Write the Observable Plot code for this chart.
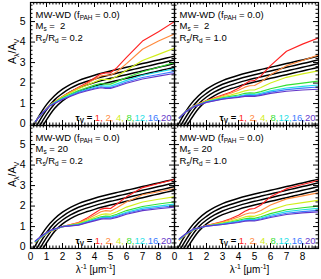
<!DOCTYPE html>
<html><head><meta charset="utf-8">
<script src="https://cdn.jsdelivr.net/npm/d3@7"></script>
<script src="https://cdn.jsdelivr.net/npm/@observablehq/plot@0.6"></script>
<style>
body{margin:0;background:#fff;}
svg{display:block}
text{white-space:pre}
</style>
</head><body><div id="chart"></div>
<script>
// ---------- data ----------
const rsRdValues = ["0.2", "1.0"];
const msValues = [2, 20];
const tauValues = [1, 2, 4, 8, 12, 16, 20];
const tauColors = ["#ff2222", "#ff8a3d", "#d2ee1c", "#35e035", "#1fe0e6", "#3b7bff", "#6336c8"];

const xGrid = [0.3, 0.7, 1.2, 2, 3, 3.5, 4, 4.4, 4.7, 5.0, 5.4, 6, 7, 8, 9];

// Ms = 2, Rs/Rd = 0.2 (rows: tau 1,2,4,8,12,16,20)
const ms2_rs02 = [
  [0.12,0.5,0.92,1.35,1.8,2.0,2.25,2.45,2.5,2.5,2.75,3.25,4.05,4.5,5.0],
  [0.12,0.5,0.92,1.34,1.77,1.95,2.18,2.35,2.38,2.38,2.55,2.95,3.65,4.05,4.4],
  [0.12,0.5,0.91,1.32,1.72,1.88,2.05,2.18,2.18,2.17,2.33,2.62,3.1,3.4,3.7],
  [0.12,0.5,0.9,1.28,1.64,1.77,1.9,1.98,1.95,1.95,2.07,2.27,2.55,2.77,3.0],
  [0.12,0.5,0.9,1.25,1.58,1.7,1.81,1.88,1.85,1.85,1.96,2.13,2.38,2.54,2.7],
  [0.12,0.5,0.89,1.22,1.54,1.65,1.75,1.82,1.78,1.78,1.88,2.05,2.27,2.42,2.56],
  [0.12,0.5,0.88,1.2,1.5,1.61,1.71,1.77,1.74,1.74,1.83,1.99,2.2,2.34,2.47]
];
// Ms = 2, Rs/Rd = 1.0
const ms2_rs10 = [
  [0.3,0.6,0.88,1.15,1.42,1.55,1.75,1.95,2.1,2.12,2.35,2.85,3.55,3.9,4.2],
  [0.3,0.6,0.88,1.14,1.38,1.5,1.65,1.8,1.87,1.88,2.05,2.4,2.85,3.1,3.37],
  [0.3,0.6,0.87,1.12,1.33,1.42,1.52,1.62,1.66,1.66,1.78,2.0,2.28,2.45,2.6],
  [0.3,0.6,0.86,1.1,1.28,1.35,1.42,1.5,1.52,1.51,1.58,1.72,1.9,2.0,2.1],
  [0.3,0.6,0.85,1.08,1.25,1.31,1.37,1.43,1.45,1.44,1.5,1.62,1.76,1.84,1.91],
  [0.3,0.6,0.85,1.07,1.23,1.28,1.33,1.39,1.4,1.39,1.45,1.56,1.68,1.75,1.81],
  [0.3,0.6,0.84,1.06,1.21,1.26,1.3,1.35,1.36,1.35,1.4,1.5,1.6,1.66,1.7]
];
// Ms = 20, Rs/Rd = 0.2
const ms20_rs02 = [
  [0.25,0.5,0.75,1.0,1.2,1.4,1.65,1.85,1.9,1.88,2.1,2.45,2.9,3.1,3.3],
  [0.25,0.5,0.75,1.0,1.18,1.35,1.55,1.72,1.78,1.75,1.92,2.2,2.55,2.7,2.85],
  [0.25,0.5,0.76,1.0,1.15,1.3,1.45,1.58,1.62,1.6,1.72,1.95,2.2,2.33,2.45],
  [0.26,0.51,0.77,1.0,1.12,1.25,1.38,1.48,1.51,1.5,1.6,1.78,1.98,2.1,2.2],
  [0.27,0.52,0.78,1.0,1.1,1.22,1.34,1.43,1.46,1.45,1.54,1.7,1.9,2.0,2.1],
  [0.28,0.53,0.79,1.0,1.08,1.2,1.31,1.4,1.42,1.41,1.5,1.65,1.83,1.93,2.02],
  [0.3,0.55,0.8,1.0,1.07,1.18,1.28,1.36,1.38,1.37,1.45,1.6,1.78,1.87,1.95]
];
// Ms = 20, Rs/Rd = 1.0
const ms20_rs10 = [
  [0.35,0.6,0.85,1.05,1.25,1.38,1.55,1.75,1.85,1.88,2.05,2.45,2.85,3.05,3.25],
  [0.35,0.6,0.85,1.05,1.22,1.33,1.47,1.6,1.66,1.66,1.78,2.05,2.35,2.5,2.65],
  [0.36,0.61,0.86,1.04,1.18,1.27,1.37,1.47,1.51,1.5,1.6,1.8,2.05,2.17,2.28],
  [0.37,0.62,0.86,1.03,1.15,1.22,1.3,1.38,1.41,1.4,1.48,1.63,1.82,1.92,2.0],
  [0.38,0.63,0.87,1.03,1.13,1.19,1.26,1.33,1.35,1.34,1.42,1.55,1.73,1.82,1.89],
  [0.39,0.64,0.87,1.02,1.11,1.17,1.23,1.29,1.31,1.3,1.37,1.49,1.65,1.73,1.79],
  [0.4,0.65,0.88,1.02,1.1,1.15,1.2,1.26,1.28,1.27,1.33,1.44,1.59,1.67,1.72]
];

// reference (black) curves, same in every panel
const blackX = [0.1,0.3,0.5,0.75,1,1.5,2,2.5,3,3.5,4,4.5,5,5.5,6,6.5,7,7.5,8,8.5,9];
const black1 = [-0.2,0.07,0.35,0.67,0.95,1.38,1.70,1.94,2.12,2.26,2.38,2.49,2.59,2.68,2.77,2.86,2.95,3.04,3.13,3.22,3.31];
const black2 = [-0.45,-0.2,0.07,0.4,0.7,1.18,1.5,1.75,1.94,2.08,2.2,2.31,2.41,2.5,2.59,2.68,2.77,2.86,2.95,3.04,3.13];
const black3 = [-0.7,-0.45,-0.19,0.14,0.46,0.98,1.32,1.57,1.76,1.9,2.02,2.13,2.23,2.32,2.41,2.5,2.59,2.68,2.77,2.86,2.95];
const black4 = [-0.95,-0.7,-0.44,-0.12,0.2,0.76,1.13,1.39,1.58,1.72,1.84,1.95,2.05,2.14,2.23,2.32,2.41,2.5,2.59,2.68,2.77];

const xTicks = [0,1,2,3,4,5,6,7,8];
const yTicks = [0,1,2,3,4,5];

const modelText = "MW-WD (f_{PAH} = 0.0)";
const msText = {2: "M_{s} =  2", 20: "M_{s} = 20"};
const rsText = {"0.2": "R_{s}/R_{d} = 0.2", "1.0": "R_{s}/R_{d} = 1.0"};
const legendText = "τ_{V} = §01, §12, §24, §38,§412,§516,§620";
const yLabel = "A_{λ}/A_{V}";
const xLabel = "λ^{-1} [μm^{-1}]";

// ---------- tables ----------
const panels = [
  {ms: 2, rs: "0.2", vals: ms2_rs02},
  {ms: 2, rs: "1.0", vals: ms2_rs10},
  {ms: 20, rs: "0.2", vals: ms20_rs02},
  {ms: 20, rs: "1.0", vals: ms20_rs10}
];
const colorRows = [];
for (const p of panels) p.vals.forEach((arr, i) => arr.forEach((v, j) =>
  colorRows.push({ms: p.ms, rs: p.rs, tau: tauValues[i], x: xGrid[j], v})));
const blackRows = [];
[black1, black2, black3, black4].forEach((arr, k) => arr.forEach((v, j) =>
  blackRows.push({curve: k, x: blackX[j], v})));
const annotRows = panels.map(p => ({ms: p.ms, rs: p.rs, l1: modelText, l2: msText[p.ms], l3: rsText[p.rs], leg: legendText}));

const xDom = [0, 9], yDom = [-0.07, 5.93];
const xMinor = d3.range(0.2, 9, 0.2).filter(d => Math.abs(d - Math.round(d)) > 0.01);
const yMinor = d3.range(0.2, 5.9, 0.2).filter(d => Math.abs(d - Math.round(d)) > 0.01);
const yPx = 1 / 20.5, xPx = 1 / 16;

const font = "'Liberation Sans', Arial, Helvetica, sans-serif";

const chart = Plot.plot({
  width: 321, height: 279,
  marginLeft: 30, marginRight: 3, marginTop: 2, marginBottom: 31,
  x: {domain: xDom},
  y: {domain: yDom},
  fx: {domain: rsRdValues, padding: 0, axis: null},
  fy: {domain: msValues, padding: 0, axis: null},
  color: {type: "ordinal", domain: tauValues, range: tauColors},
  style: {fontFamily: font, fontSize: "10px", background: "white", color: "black", overflow: "visible"},
  marks: [
    Plot.line(blackRows, {x: "x", y: "v", z: "curve", stroke: "black", strokeWidth: 1.5, curve: "monotone-x", clip: true}),
    Plot.line(colorRows, {x: "x", y: "v", z: "tau", stroke: "tau", fx: "rs", fy: "ms", strokeWidth: 1.15, clip: true}),
    // inward ticks on all four sides
    Plot.ruleX(xTicks, {x: d => d, y1: yDom[0], y2: yDom[0] + 5 * yPx, stroke: "black"}),
    Plot.ruleX(xTicks, {x: d => d, y1: yDom[1], y2: yDom[1] - 5 * yPx, stroke: "black"}),
    Plot.ruleX(xMinor, {x: d => d, y1: yDom[0], y2: yDom[0] + 2.5 * yPx, stroke: "black"}),
    Plot.ruleX(xMinor, {x: d => d, y1: yDom[1], y2: yDom[1] - 2.5 * yPx, stroke: "black"}),
    Plot.ruleY(yTicks, {y: d => d, x1: xDom[0], x2: xDom[0] + 5 * xPx, stroke: "black"}),
    Plot.ruleY(yTicks, {y: d => d, x1: xDom[1], x2: xDom[1] - 5 * xPx, stroke: "black"}),
    Plot.ruleY(yMinor, {y: d => d, x1: xDom[0], x2: xDom[0] + 2.5 * xPx, stroke: "black"}),
    Plot.ruleY(yMinor, {y: d => d, x1: xDom[1], x2: xDom[1] - 2.5 * xPx, stroke: "black"}),
    Plot.frame({stroke: "black", strokeWidth: 1.2}),
    Plot.axisX({ticks: xTicks, tickSize: 0, tickPadding: 4, tickFormat: d => String(d), label: null, fontSize: 10}),
    Plot.axisY({ticks: yTicks, tickSize: 0, tickPadding: 5, tickFormat: d => String(d), label: null, fontSize: 10.5}),
    Plot.text(annotRows, {fx: "rs", fy: "ms", text: "l1", frameAnchor: "top-left", textAnchor: "start", lineAnchor: "middle", dx: 5, dy: 12, fontSize: 9.5}),
    Plot.text(annotRows, {fx: "rs", fy: "ms", text: "l2", frameAnchor: "top-left", textAnchor: "start", lineAnchor: "middle", dx: 5, dy: 23, fontSize: 9.5}),
    Plot.text(annotRows, {fx: "rs", fy: "ms", text: "l3", frameAnchor: "top-left", textAnchor: "start", lineAnchor: "middle", dx: 5, dy: 35, fontSize: 9.5}),
    Plot.text(annotRows, {fx: "rs", fy: "ms", text: "leg", frameAnchor: "bottom-right", textAnchor: "end", lineAnchor: "middle", dx: -3, dy: -8, fontSize: 9.5}),
    Plot.text(annotRows.filter(d => d.rs === "0.2"), {fx: "rs", fy: "ms", text: () => yLabel, frameAnchor: "left", dx: -18, rotate: -90, fontSize: 10.5}),
    Plot.text(annotRows.filter(d => d.ms === 20 && d.rs === "0.2"), {fx: "rs", fy: "ms", text: () => xLabel, frameAnchor: "bottom", dx: -7, dy: 21, lineAnchor: "middle", fontSize: 10}),
    Plot.text(annotRows.filter(d => d.ms === 20 && d.rs === "1.0"), {fx: "rs", fy: "ms", text: () => xLabel, frameAnchor: "bottom", dx: 3, dy: 21, lineAnchor: "middle", fontSize: 10})
  ]
});

// rich text: sub/superscripts and per-tau colours
function baseSize(el) {
  let n = el;
  while (n && n.getAttribute) {
    const fs = n.getAttribute("font-size");
    if (fs) return parseFloat(fs);
    n = n.parentNode;
  }
  return 10;
}
d3.select(chart).selectAll("text").each(function () {
  const s = this.textContent;
  if (!/[_^]\{|§/.test(s)) return;
  const base = baseSize(this);
  const isLegend = s.includes("§");
  const parts = s.split(/(_\{[^}]*\}|\^\{[^}]*\}|§\d)/).filter(t => t !== "");
  while (this.firstChild) this.removeChild(this.firstChild);
  let shift = 0, color = null;
  for (const t of parts) {
    if (t[0] === "§") { color = tauColors[+t[1]]; continue; }
    let txt = t, target = 0, small = false;
    if (t.startsWith("_{")) { txt = t.slice(2, -1); target = 0.3 * base; small = true; }
    else if (t.startsWith("^{")) { txt = t.slice(2, -1); target = -0.4 * base; small = true; }
    const ts = document.createElementNS("http://www.w3.org/2000/svg", "tspan");
    ts.textContent = txt;
    if (target - shift !== 0) ts.setAttribute("dy", (target - shift).toFixed(2));
    shift = target;
    if (small) ts.setAttribute("font-size", (0.68 * base).toFixed(2));
    if (color) ts.setAttribute("fill", color);
    if (isLegend && !color) ts.setAttribute("font-weight", "bold");
    this.appendChild(ts);
  }
});

document.getElementById("chart").appendChild(chart);
</script></body></html>
